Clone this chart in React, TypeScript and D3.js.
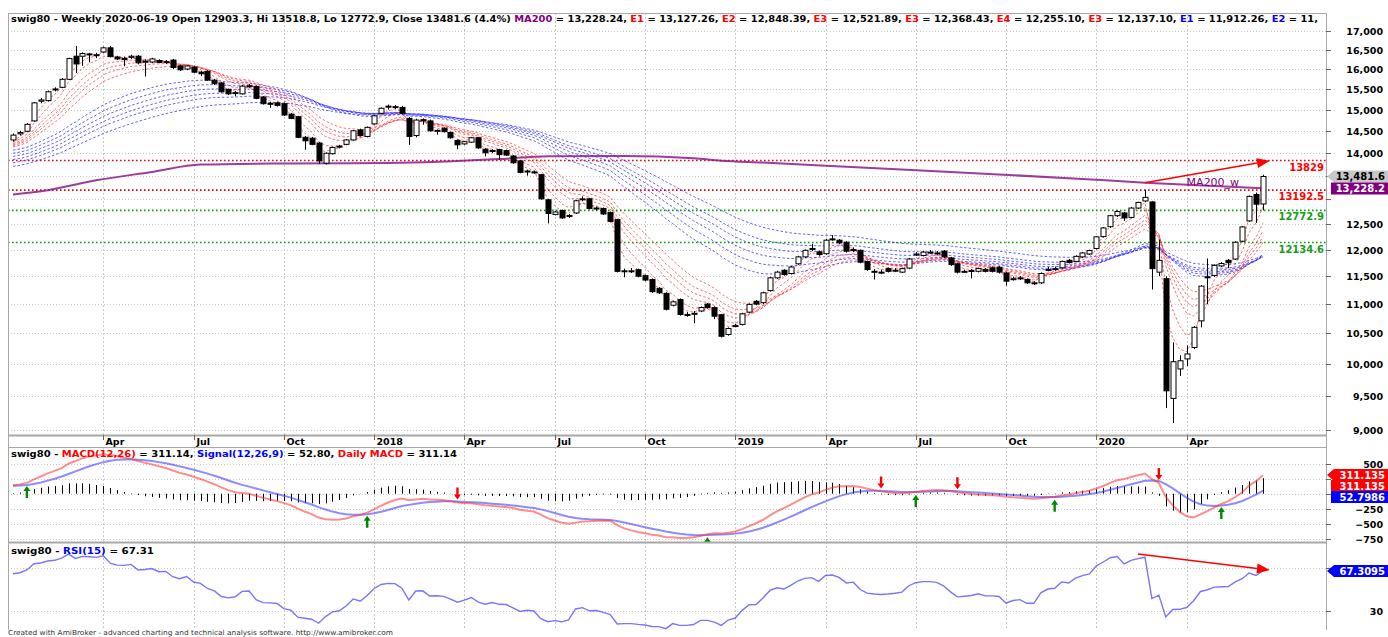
import React, { useMemo } from 'react';
import * as d3 from 'd3';

// ---------- DATA (weekly, first week 2017-01-06) ----------
const START_DATE = new Date(2017, 0, 6);
const OPEN = [14290,14430,14490,14730,15200,15215,15480,15540,15740,16330,16330,16370,16350,16440,16550,16310,16270,16300,16330,16180,16180,16220,16180,16230,16080,16000,16050,15920,15940,15720,15650,15490,15390,15380,15560,15560,15300,15150,15160,15140,14890,14830,14350,14330,14220,13770,13980,14130,14190,14290,14520,14370,14660,14910,15060,15050,15050,14790,14390,14740,14730,14500,14560,14460,14280,14200,14240,14340,14080,14030,14070,14050,13930,13820,13580,13580,13520,12990,12690,12770,12650,12720,12990,13010,12800,12810,12730,12585,11590,11590,11620,11510,11440,11280,11190,10980,11080,10810,10830,10880,11000,10940,10815,10480,10620,10650,10860,11050,11025,11240,11470,11610,11550,11730,11860,12000,11955,11920,12190,12180,12140,11990,11985,11775,11590,11570,11640,11600,11575,11650,11905,11885,11945,11930,11970,11840,11730,11585,11600,11590,11625,11655,11665,11560,11450,11465,11440,11375,11380,11620,11635,11655,11795,11775,11860,11915,12020,12250,12445,12665,12720,12630,12820,12965,12945,11575,11455,9465,9920,10080,10265,10710,11490,11515,11690,11795,11820,12160,12560,13100,12903.3];
const HIGH = [14440,14500,14680,15180,15280,15460,15540,15770,16290,16600,16430,16420,16420,16580,16600,16340,16320,16370,16360,16250,16290,16250,16230,16260,16110,16100,16080,15950,15970,15750,15670,15510,15450,15600,15620,15590,15320,15180,15190,15170,14920,14850,14380,14360,14240,14010,14140,14180,14310,14520,14550,14600,14870,15050,15120,15110,15090,14820,14780,14790,14760,14530,14580,14480,14300,14270,14360,14360,14100,14080,14090,14070,13950,13840,13630,13610,13540,13010,12760,12790,12700,12990,13060,13030,12850,12830,12750,12600,11640,11650,11640,11530,11460,11300,11210,11060,11100,10860,10880,10960,11020,10960,10830,10600,10660,10850,11010,11070,11220,11490,11600,11630,11690,11880,12000,12110,11980,12200,12280,12200,12160,12040,12000,11790,11630,11620,11660,11650,11660,11840,11950,11970,11990,11970,11990,11860,11750,11620,11630,11660,11650,11680,11690,11580,11490,11500,11460,11410,11570,11670,11680,11790,11820,11890,11950,11995,12260,12440,12680,12770,12740,12840,12950,13200,12960,12190,11500,10350,10140,10300,10620,11340,11830,11720,11760,11820,12160,12460,13080,13140,13518.8];
const LOW = [14250,14390,14470,14710,15150,15190,15440,15520,15720,15900,16080,16170,16280,16420,16300,16230,16070,16260,16120,15810,16150,16150,16130,16000,15950,15970,15900,15820,15700,15600,15410,15350,15320,15360,15530,15250,15120,15040,15070,14850,14770,14330,14070,14170,13760,13740,13960,14100,14170,14270,14370,14350,14640,14890,15000,15010,14880,14180,14350,14640,14480,14410,14460,14320,14080,14180,14220,14090,13920,13990,13850,13930,13760,13550,13500,13540,12990,12510,12670,12600,12620,12700,12960,12790,12770,12680,12530,11570,11480,11560,11480,11410,11200,11180,10890,10960,10800,10780,10670,10860,10920,10740,10430,10460,10600,10630,10840,10980,11000,11220,11450,11510,11530,11710,11840,11970,11880,11900,12170,12100,11940,11950,11740,11600,11440,11540,11570,11580,11560,11630,11880,11870,11920,11900,11840,11690,11550,11560,11460,11570,11570,11570,11550,11330,11420,11430,11360,11340,11360,11590,11600,11640,11740,11760,11840,11900,12000,12230,12420,12640,12560,12610,12800,12940,11260,11500,9320,9100,9810,9965,10240,10600,11000,11490,11670,11650,11800,12140,12540,12520,12772.9];
const CLOSE = [14400,14460,14650,15160,15230,15430,15500,15740,16270,16130,16400,16390,16370,16550,16320,16260,16250,16330,16160,16200,16260,16170,16190,16040,15980,16080,15920,15880,15720,15640,15430,15380,15410,15570,15580,15270,15140,15130,15100,14870,14790,14350,14270,14190,13820,13990,14120,14150,14290,14500,14390,14580,14850,15030,15080,15070,14910,14370,14750,14760,14500,14510,14480,14340,14180,14250,14340,14110,14000,14050,13960,13950,13780,13570,13600,13560,13010,12710,12740,12620,12670,12970,13010,12810,12820,12700,12550,11590,11600,11600,11500,11430,11220,11200,10910,11040,10820,10820,10840,10940,10940,10790,10450,10580,10630,10830,10995,11000,11200,11470,11575,11530,11670,11860,11985,12020,11905,12180,12205,12130,11970,12000,11760,11625,11590,11575,11590,11610,11640,11820,11915,11950,11950,11935,11860,11715,11575,11590,11605,11640,11590,11590,11575,11410,11455,11470,11380,11380,11550,11625,11640,11775,11755,11870,11935,11980,12245,12420,12665,12750,12620,12820,12935,13040,11640,11795,9580,10035,10050,10160,10600,11320,11470,11700,11735,11750,12140,12440,13060,12900,13481.6];

// MA200 (weekly)
const MA200_IDX = [0, 5, 12, 20, 27, 39, 54, 70, 77, 88, 98, 102, 108, 120, 135, 154, 163, 180];
const MA200_VAL = [13100, 13190, 13400, 13580, 13740, 13765, 13775, 13860, 13925, 13930, 13880, 13825, 13785, 13690, 13580, 13430, 13350, 13228];

// GMMA periods and starting values (at the first bar)
const GMMA_SHORT = [3, 5, 8, 10, 12, 15];
const GMMA_SHORT_START = [14270, 14240, 14210, 14185, 14160, 14130];
const GMMA_LONG = [30, 35, 40, 45, 50, 60];
const GMMA_LONG_START = [14060, 13990, 13920, 13850, 13780, 13700];

// MACD / RSI starting states
const MACD_FAST_START = 14150;
const MACD_SLOW_START = 14010;
const MACD_SIGNAL_START = 130;
const RSI_PERIOD = 15;
const RSI_GAIN_START = 110;
const RSI_LOSS_START = 60;

// Signals
const BUY_IDX = [2, 51, 100, 130, 150, 174];
const SELL_IDX = [64, 125, 136, 165];

// Horizontal levels
const LEVEL_VALUES = [13829, 13192.5, 12772.9, 12134.6];
const LEVEL_LABELS = ['13829', '13192.5', '12772.9', '12134.6'];
const LEVEL_KIND = ['res', 'res', 'sup', 'sup'];

// Trend annotations (index, value)
const PRICE_ARROW = [[163, 13347], [181, 13822]];
const RSI_ARROW = [[162, 83], [181, 68.1]];

// Last values shown in the right-hand badges
const PRICE_BADGES = [13481.6, 13228.24];
const PRICE_BADGE_TEXT = ['13,481.6', '13,228.2'];
const MACD_BADGE_VALUE = 311.135;
const MACD_BADGE_TEXT = ['311.135', '311.135', '52.7986'];
const RSI_BADGE_VALUE = 67.3095;
const RSI_BADGE_TEXT = '67.3095';

const PRICE_TICKS = [9000, 9500, 10000, 10500, 11000, 11500, 12000, 12500, 13000, 13500, 14000, 14500, 15000, 15500, 16000, 16500, 17000];
const MACD_TICKS = [-750, -500, -250, 0, 250, 500];
const RSI_TICKS = [30, 70];
const MONTH_LABELS: Record<number, string> = { 3: 'Apr', 6: 'Jul', 9: 'Oct' };

// ---------- helpers ----------
function ema(values: number[], period: number, start: number) {
  const a = 2 / (period + 1);
  const out: number[] = [];
  let e = start;
  values.forEach((v, i) => {
    if (i > 0) e = e + a * (v - e);
    out.push(e);
  });
  return out;
}

const FONT = 'DejaVu Sans, Verdana, sans-serif';
const L = 8, R = 1326;
const MAIN_TOP = 13, MAIN_BOT = 435, AX_BOT = 447, MACD_BOT = 542, RSI_BOT = 630;

function Badge({ y, text, fill, color, tip }: { y: number; text: string; fill: string; color: string; tip: boolean }) {
  const h = 6;
  const pts = tip
    ? `1327,${y} 1334,${y - h} 1388,${y - h} 1388,${y + h} 1334,${y + h}`
    : `1331,${y - h} 1388,${y - h} 1388,${y + h} 1331,${y + h}`;
  return (
    <g>
      <polygon points={pts} fill={fill} />
      <text x={1385} y={y + 4} textAnchor="end" fontFamily={FONT} fontWeight="bold" fontSize={10} fill={color}>{text}</text>
    </g>
  );
}

function UpArrow({ x, y, color }: { x: number; y: number; color: string }) {
  const d = `M${x},${y} L${x + 3.5},${y + 5} L${x + 1.2},${y + 5} L${x + 1.2},${y + 12} L${x - 1.2},${y + 12} L${x - 1.2},${y + 5} L${x - 3.5},${y + 5} Z`;
  return <path d={d} fill={color} />;
}
function DownArrow({ x, y, color }: { x: number; y: number; color: string }) {
  const d = `M${x},${y} L${x + 3.5},${y - 5} L${x + 1.2},${y - 5} L${x + 1.2},${y - 12} L${x - 1.2},${y - 12} L${x - 1.2},${y - 5} L${x - 3.5},${y - 5} Z`;
  return <path d={d} fill={color} />;
}

function Arrow({ x1, y1, x2, y2 }: { x1: number; y1: number; x2: number; y2: number }) {
  const ang = Math.atan2(y2 - y1, x2 - x1);
  const len = 13, w = 5;
  const bx = x2 - len * Math.cos(ang), by = y2 - len * Math.sin(ang);
  const p1 = [bx + w * Math.sin(ang), by - w * Math.cos(ang)];
  const p2 = [bx - w * Math.sin(ang), by + w * Math.cos(ang)];
  return (
    <g>
      <line x1={x1} y1={y1} x2={bx} y2={by} stroke="#ff0000" strokeWidth={1.6} />
      <polygon points={`${x2},${y2} ${p1[0]},${p1[1]} ${p2[0]},${p2[1]}`} fill="#ff0000" />
    </g>
  );
}

export default function App() {
  const n = CLOSE.length;
  const xs = d3.scaleLinear().domain([0, n - 1]).range([13, 1263]);
  const yMain = d3.scaleLog().domain([9000, 17000]).range([430, 31]);
  const yMacd = d3.scaleLinear().domain([-750, 500]).range([539, 463.5]);
  const yRsi = d3.scaleLinear().domain([30, 70]).range([611, 568]);

  const calc = useMemo(() => {
    const shortE = GMMA_SHORT.map((p, k) => ema(CLOSE, p, GMMA_SHORT_START[k]));
    const longE = GMMA_LONG.map((p, k) => ema(CLOSE, p, GMMA_LONG_START[k]));
    const fast = ema(CLOSE, 12, MACD_FAST_START);
    const slow = ema(CLOSE, 26, MACD_SLOW_START);
    const macd = fast.map((f, i) => f - slow[i]);
    const signal = ema(macd, 9, MACD_SIGNAL_START);
    const rsi: number[] = [];
    let g = RSI_GAIN_START, l = RSI_LOSS_START;
    CLOSE.forEach((c, i) => {
      if (i > 0) {
        const ch = c - CLOSE[i - 1];
        g = (g * (RSI_PERIOD - 1) + Math.max(ch, 0)) / RSI_PERIOD;
        l = (l * (RSI_PERIOD - 1) + Math.max(-ch, 0)) / RSI_PERIOD;
      }
      rsi.push(100 - 100 / (1 + g / l));
    });
    return { shortE, longE, macd, signal, rsi };
  }, []);

  const dates = CLOSE.map((_, i) => d3.timeDay.offset(START_DATE, 7 * i));
  const xTicks: { i: number; label: string }[] = [];
  dates.forEach((d, i) => {
    if (i === 0) return;
    const m = d.getMonth();
    if (m !== dates[i - 1].getMonth() && (m % 3 === 0)) {
      xTicks.push({ i, label: m === 0 ? String(d.getFullYear()) : MONTH_LABELS[m] });
    }
  });

  const lineMain = d3.line<number>().x((_, i) => xs(i)).y((v) => yMain(v));
  const lineMa = d3.line<number>().x((_, k) => xs(MA200_IDX[k])).y((v) => yMain(v)).curve(d3.curveMonotoneX);
  const lineMacd = d3.line<number>().x((_, i) => xs(i)).y((v) => yMacd(v));
  const lineRsi = d3.line<number>().x((_, i) => xs(i)).y((v) => yRsi(v));
  const fmt = d3.format(',');

  // badge positions
  const priceBadgeY = PRICE_BADGES.map((v) => yMain(v));
  const macdBadgeY = [0, 11, 22].map((o) => yMacd(MACD_BADGE_VALUE) + o);
  const rsiBadgeY = [yRsi(RSI_BADGE_VALUE)];
  const covered = (y: number, ys: number[]) => ys.some((b) => Math.abs(b - y) < 11);

  const gridColor = '#c8c8c8';

  return (
    <svg width={1388} height={637} style={{ position: 'absolute', left: 0, top: 0, background: '#fff' }}>
      <defs>
        <clipPath id="cMain"><rect x={L} y={MAIN_TOP} width={R - L} height={MAIN_BOT - MAIN_TOP} /></clipPath>
        <clipPath id="cMacd"><rect x={L} y={AX_BOT} width={R - L} height={MACD_BOT - AX_BOT} /></clipPath>
        <clipPath id="cRsi"><rect x={L} y={MACD_BOT} width={R - L} height={RSI_BOT - MACD_BOT} /></clipPath>
      </defs>
      <rect x={0} y={0} width={1388} height={637} fill="#fff" />

      {/* grid */}
      {PRICE_TICKS.map((t) => (
        <line key={'pg' + t} x1={L} x2={R} y1={Math.round(yMain(t)) + 0.5} y2={Math.round(yMain(t)) + 0.5} stroke={gridColor} strokeDasharray="1,2" />
      ))}
      {MACD_TICKS.map((t) => (
        <line key={'mg' + t} x1={L} x2={R} y1={Math.round(yMacd(t)) + 0.5} y2={Math.round(yMacd(t)) + 0.5} stroke={gridColor} strokeDasharray="1,2" />
      ))}
      {RSI_TICKS.map((t) => (
        <line key={'rg' + t} x1={L} x2={R} y1={Math.round(yRsi(t)) + 0.5} y2={Math.round(yRsi(t)) + 0.5} stroke={gridColor} strokeDasharray="1,2" />
      ))}
      {xTicks.map((t) => {
        const x = Math.round(xs(t.i)) + 0.5;
        return (
          <g key={'vx' + t.i}>
            <line x1={x} x2={x} y1={MAIN_TOP} y2={MAIN_BOT} stroke={gridColor} strokeDasharray="2,2" />
            <line x1={x} x2={x} y1={AX_BOT} y2={MACD_BOT} stroke={gridColor} strokeDasharray="2,2" />
            <line x1={x} x2={x} y1={MACD_BOT} y2={RSI_BOT} stroke={gridColor} strokeDasharray="2,2" />
          </g>
        );
      })}

      {/* main panel */}
      <g clipPath="url(#cMain)">
        {LEVEL_VALUES.map((v, k) => (
          <line key={'lv' + k} x1={L} x2={R} y1={yMain(v)} y2={yMain(v)} stroke={LEVEL_KIND[k] === 'res' ? '#ff0000' : '#00a800'} strokeWidth={1.6} strokeDasharray="1.6,2.4" />
        ))}
        <path d={lineMa(MA200_VAL) || ''} fill="none" stroke="#8b1a8b" strokeOpacity={0.85} strokeWidth={2} />
        {calc.longE.map((arr, k) => (
          <path key={'le' + k} d={lineMain(arr) || ''} fill="none" stroke="#2020ff" strokeOpacity={0.7} strokeWidth={1} strokeDasharray="2.5,2" />
        ))}
        {calc.shortE.map((arr, k) => (
          <path key={'se' + k} d={lineMain(arr) || ''} fill="none" stroke="#ff2020" strokeOpacity={0.65} strokeWidth={1} strokeDasharray="2.5,2" />
        ))}
        {CLOSE.map((c, i) => {
          const o = OPEN[i];
          const x = Math.round(xs(i)) + 0.5;
          const top = yMain(Math.max(o, c));
          const bot = yMain(Math.min(o, c));
          const up = c >= o;
          return (
            <g key={'c' + i}>
              <line x1={x} x2={x} y1={yMain(HIGH[i])} y2={yMain(LOW[i])} stroke="#000" strokeWidth={1} />
              <rect x={x - 2.5} y={top} width={5} height={Math.max(1, bot - top)} fill={up ? '#fff' : '#000'} stroke="#000" strokeWidth={1} />
            </g>
          );
        })}
        <Arrow x1={xs(PRICE_ARROW[0][0])} y1={yMain(PRICE_ARROW[0][1])} x2={xs(PRICE_ARROW[1][0])} y2={yMain(PRICE_ARROW[1][1])} />
        <text x={xs(169)} y={yMain(13280)} fontFamily={FONT} fontSize={11} fill="#800080">MA200_w</text>
        {LEVEL_VALUES.map((v, k) => (
          <text key={'ll' + k} x={R - 2} y={yMain(v) + 10} textAnchor="end" fontFamily={FONT} fontWeight="bold" fontSize={10} fill={LEVEL_KIND[k] === 'res' ? '#ff0000' : '#1a9c1a'}>{LEVEL_LABELS[k]}</text>
        ))}
      </g>

      {/* main header */}
      <text x={11} y={22} fontFamily={FONT} fontWeight="bold" fontSize={9.5} fill="#000" textLength={1307} lengthAdjust="spacingAndGlyphs">
        <tspan>swig80 - Weekly 2020-06-19 Open 12903.3, Hi 13518.8, Lo 12772.9, Close 13481.6 (4.4%) </tspan>
        <tspan fill="#800080">MA200</tspan><tspan> = 13,228.24, </tspan>
        <tspan fill="#ff0000">E1</tspan><tspan> = 13,127.26, </tspan>
        <tspan fill="#ff0000">E2</tspan><tspan> = 12,848.39, </tspan>
        <tspan fill="#ff0000">E3</tspan><tspan> = 12,521.89, </tspan>
        <tspan fill="#ff0000">E3</tspan><tspan> = 12,368.43, </tspan>
        <tspan fill="#ff0000">E4</tspan><tspan> = 12,255.10, </tspan>
        <tspan fill="#ff0000">E3</tspan><tspan> = 12,137.10, </tspan>
        <tspan fill="#0000ff">E1</tspan><tspan> = 11,912.26, </tspan>
        <tspan fill="#0000ff">E2</tspan><tspan> = 11,</tspan>
      </text>

      {/* MACD panel */}
      <g clipPath="url(#cMacd)">
        {calc.macd.map((m, i) => {
          const x = Math.round(xs(i)) + 0.5;
          return <line key={'h' + i} x1={x} x2={x} y1={yMacd(0)} y2={yMacd(m - calc.signal[i])} stroke="#000" strokeWidth={1} />;
        })}
        <path d={lineMacd(calc.signal) || ''} fill="none" stroke="#4040ff" strokeOpacity={0.6} strokeWidth={2} />
        <path d={lineMacd(calc.macd) || ''} fill="none" stroke="#ff3030" strokeOpacity={0.55} strokeWidth={2} />
        {BUY_IDX.map((i) => <UpArrow key={'b' + i} x={xs(i)} y={yMacd(calc.macd[i]) + 3} color="#008800" />)}
        {SELL_IDX.map((i) => <DownArrow key={'s' + i} x={xs(i)} y={yMacd(calc.macd[i]) - 3} color="#ff0000" />)}
      </g>
      <text x={11} y={457} fontFamily={FONT} fontWeight="bold" fontSize={9.5} fill="#000" textLength={446} lengthAdjust="spacingAndGlyphs">
        <tspan>swig80 - </tspan><tspan fill="#ff0000">MACD(12,26)</tspan><tspan> = 311.14, </tspan>
        <tspan fill="#0000ff">Signal(12,26,9)</tspan><tspan> = 52.80, </tspan>
        <tspan fill="#ff0000">Daily MACD</tspan><tspan> = 311.14</tspan>
      </text>

      {/* RSI panel */}
      <g clipPath="url(#cRsi)">
        <path d={lineRsi(calc.rsi) || ''} fill="none" stroke="#4848ff" strokeOpacity={0.75} strokeWidth={1.4} />
        <Arrow x1={xs(RSI_ARROW[0][0])} y1={yRsi(RSI_ARROW[0][1])} x2={xs(RSI_ARROW[1][0])} y2={yRsi(RSI_ARROW[1][1])} />
      </g>
      <text x={11} y={554} fontFamily={FONT} fontWeight="bold" fontSize={9.5} fill="#000" textLength={143} lengthAdjust="spacingAndGlyphs">
        <tspan>swig80 - </tspan><tspan fill="#0000ff">RSI(15)</tspan><tspan> = 67.31</tspan>
      </text>

      {/* frames */}
      <g fill="none" stroke="#a8a8a8">
        <line x1={L + 0.5} x2={L + 0.5} y1={MAIN_TOP} y2={RSI_BOT} />
        <line x1={R + 0.5} x2={R + 0.5} y1={MAIN_TOP} y2={RSI_BOT} />
        <line x1={L} x2={R} y1={MAIN_TOP + 0.5} y2={MAIN_TOP + 0.5} />
        <line x1={L} x2={R} y1={MAIN_BOT + 0.5} y2={MAIN_BOT + 0.5} strokeWidth={2} />
        <line x1={L} x2={R} y1={AX_BOT + 0.5} y2={AX_BOT + 0.5} />
        <line x1={L} x2={R} y1={MACD_BOT + 0.5} y2={MACD_BOT + 0.5} strokeWidth={2} />
      </g>

      {/* x axis */}
      {xTicks.map((t) => {
        const x = Math.round(xs(t.i)) + 0.5;
        return (
          <g key={'xt' + t.i}>
            <line x1={x} x2={x} y1={MAIN_BOT} y2={MAIN_BOT + 5} stroke="#666" />
            <text x={x + 2} y={445} fontFamily={FONT} fontWeight="bold" fontSize={9.5} fill="#000">{t.label}</text>
          </g>
        );
      })}

      {/* right axes */}
      {PRICE_TICKS.map((t) => (
        <g key={'pt' + t}>
          <line x1={R} x2={R + 5} y1={Math.round(yMain(t)) + 0.5} y2={Math.round(yMain(t)) + 0.5} stroke="#666" />
          {!covered(yMain(t), priceBadgeY) && (
            <text x={1383} y={yMain(t) + 4} textAnchor="end" fontFamily={FONT} fontWeight="bold" fontSize={9.5} fill="#000">{fmt(t)}</text>
          )}
        </g>
      ))}
      {MACD_TICKS.map((t) => (
        <g key={'mt' + t}>
          <line x1={R} x2={R + 5} y1={Math.round(yMacd(t)) + 0.5} y2={Math.round(yMacd(t)) + 0.5} stroke="#666" />
          {!covered(yMacd(t), macdBadgeY) && (
            <text x={1383} y={yMacd(t) + 4} textAnchor="end" fontFamily={FONT} fontWeight="bold" fontSize={9.5} fill="#000">{fmt(t)}</text>
          )}
        </g>
      ))}
      {RSI_TICKS.map((t) => (
        <g key={'rt' + t}>
          <line x1={R} x2={R + 5} y1={Math.round(yRsi(t)) + 0.5} y2={Math.round(yRsi(t)) + 0.5} stroke="#666" />
          {!covered(yRsi(t), rsiBadgeY) && (
            <text x={1383} y={yRsi(t) + 4} textAnchor="end" fontFamily={FONT} fontWeight="bold" fontSize={9.5} fill="#000">{t}</text>
          )}
        </g>
      ))}

      {/* value badges */}
      <Badge y={priceBadgeY[0]} text={PRICE_BADGE_TEXT[0]} fill="#c8c8c8" color="#000" tip />
      <Badge y={priceBadgeY[1]} text={PRICE_BADGE_TEXT[1]} fill="#800080" color="#fff" tip={false} />
      <Badge y={macdBadgeY[0]} text={MACD_BADGE_TEXT[0]} fill="#ff0000" color="#fff" tip />
      <Badge y={macdBadgeY[1]} text={MACD_BADGE_TEXT[1]} fill="#ff0000" color="#fff" tip={false} />
      <Badge y={macdBadgeY[2]} text={MACD_BADGE_TEXT[2]} fill="#0000ff" color="#fff" tip={false} />
      <Badge y={rsiBadgeY[0]} text={RSI_BADGE_TEXT} fill="#0000ff" color="#fff" tip />

      {/* footer */}
      <text x={8} y={634.5} fontFamily={FONT} fontSize={7} fill="#333" textLength={385} lengthAdjust="spacingAndGlyphs">Created with AmiBroker - advanced charting and technical analysis software. http://www.amibroker.com</text>
    </svg>
  );
}
